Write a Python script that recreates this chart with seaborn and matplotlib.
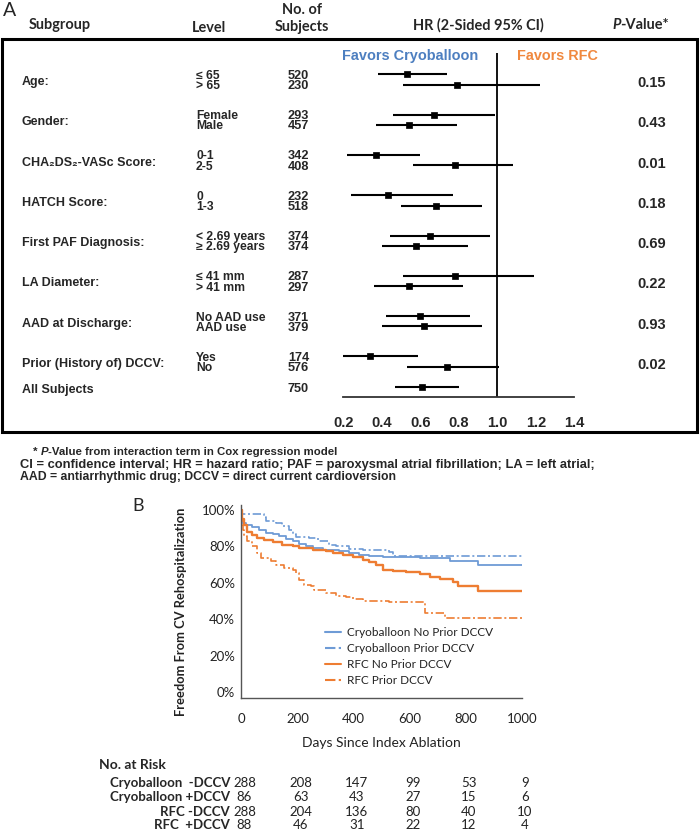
import numpy as np
import pandas as pd
import matplotlib
matplotlib.use("Agg")
import matplotlib.pyplot as plt
import seaborn as sns
from matplotlib.patches import Rectangle
from matplotlib.ticker import FuncFormatter
from matplotlib import transforms

# ---------------- Data: Panel A (forest plot) ----------------
subgroups = ["Age:", "Gender:", "CHA₂DS₂-VASc Score:", "HATCH Score:",
             "First PAF Diagnosis:", "LA Diameter:", "AAD at Discharge:",
             "Prior (History of) DCCV:", "All Subjects"]
levels = [["≤ 65", "> 65"], ["Female", "Male"], ["0-1", "2-5"], ["0", "1-3"],
          ["< 2.69 years", "≥ 2.69 years"], ["≤ 41 mm", "> 41 mm"],
          ["No AAD use", "AAD use"], ["Yes", "No"], [""]]
n_subjects = [[520, 230], [293, 457], [342, 408], [232, 518], [374, 374],
              [287, 297], [371, 379], [174, 576], [750]]
hr = [[0.53, 0.79], [0.67, 0.54], [0.37, 0.78], [0.43, 0.68], [0.65, 0.58],
      [0.78, 0.54], [0.60, 0.62], [0.34, 0.74], [0.61]]
ci_low = [[0.38, 0.51], [0.46, 0.37], [0.22, 0.56], [0.24, 0.50], [0.44, 0.40],
          [0.51, 0.36], [0.42, 0.40], [0.20, 0.53], [0.47]]
ci_high = [[0.74, 1.22], [0.99, 0.79], [0.60, 1.08], [0.77, 0.92], [0.96, 0.85],
           [1.19, 0.82], [0.86, 0.92], [0.59, 1.01], [0.80]]
p_values = ["0.15", "0.43", "0.01", "0.18", "0.69", "0.22", "0.93", "0.02", ""]
hr_ticks = [0.2, 0.4, 0.6, 0.8, 1.0, 1.2, 1.4]

# ---------------- Data: Panel B (Kaplan-Meier) ----------------
cryo_noprior_days = [0, 2, 15, 39, 63, 87, 111, 135, 158, 182, 206, 230, 254, 289,
                     349, 385, 420, 456, 504, 635, 743, 843, 1000]
cryo_noprior_surv = [100, 93, 91.8, 90.5, 89, 87.6, 86.7, 85.5, 84, 82.7, 81.5, 80.4,
                     79, 78.2, 77.3, 76.4, 75, 74.5, 74, 73.6, 72, 70, 70]
cryo_prior_days = [0, 1, 81, 87, 123, 146, 170, 182, 194, 242, 271, 313, 337, 385,
                   432, 527, 539, 1000]
cryo_prior_surv = [100, 97.8, 96, 94, 92.7, 91, 89, 87, 85, 84.5, 82.7, 81, 80, 78.5,
                   77.8, 76.7, 74.5, 74.5]
rfc_noprior_days = [0, 3, 10, 21, 39, 57, 81, 111, 146, 182, 206, 254, 301, 325, 361,
                    396, 432, 456, 480, 504, 539, 587, 636, 671, 707, 754, 771, 843, 1000]
rfc_noprior_surv = [100, 95, 91.8, 88, 86.4, 84.5, 83.3, 82.2, 81, 80, 79, 78.2, 77.3,
                    76.4, 75.5, 74.2, 72.7, 71.3, 69.5, 67.3, 66.5, 65.8, 65, 63.3, 62,
                    60.6, 58, 55.7, 55.7]
rfc_prior_days = [0, 2, 4, 10, 21, 39, 57, 69, 105, 123, 152, 182, 194, 206, 224, 248,
                  260, 301, 337, 373, 396, 432, 527, 654, 725, 1000]
rfc_prior_surv = [100, 92, 89, 85.5, 82.7, 80, 76.4, 73.6, 71.8, 70, 68.2, 67.3, 65.5,
                  61.8, 59, 58.2, 56, 54.5, 53, 52.2, 51, 50, 49.5, 43.6, 40.8, 40.8]
km_labels = ["Cryoballoon No Prior DCCV", "Cryoballoon Prior DCCV",
             "RFC No Prior DCCV", "RFC Prior DCCV"]
km_ticks_x = [0, 200, 400, 600, 800, 1000]
km_ticks_y = [0, 20, 40, 60, 80, 100]

risk_labels = ["Cryoballoon  -DCCV", "Cryoballoon +DCCV", "RFC -DCCV", "RFC  +DCCV"]
risk_days = [0, 200, 400, 600, 800, 1000]
risk_counts = [[288, 208, 147, 99, 53, 9],
               [86, 63, 43, 27, 15, 6],
               [288, 204, 136, 80, 40, 10],
               [88, 46, 31, 22, 12, 4]]

# ---------------- Styling ----------------
sns.set_style("white")
plt.rcParams["font.family"] = ["Liberation Sans", "DejaVu Sans"]
ARIAL = ["Liberation Sans", "DejaVu Sans"]
SOFT = ["Lato", "DejaVu Sans"]

BLUE = "#6E9BD6"
ORANGE = "#EE7D32"
FAV_BLUE = "#4D7FC0"
FAV_ORANGE = "#F0883E"
W, H = 700, 831

fig = plt.figure(figsize=(7, 8.31), dpi=100)
renderer = fig.canvas.get_renderer()


def X(px):
    return px / W


def Y(py):
    return 1 - py / H


def ftext(x, y, s, **kw):
    kw.setdefault("va", "center")
    kw.setdefault("family", ARIAL)
    return fig.text(X(x), Y(y), s, **kw)


def width_px(t):
    return t.get_window_extent(renderer=renderer).width


def fit(x, y, s, target, **kw):
    t = ftext(x, y, s, fontsize=10, **kw)
    t.set_fontsize(10 * target / width_px(t))
    return t


def seq(x, y, parts, size, **common):
    for s, extra in parts:
        t = ftext(x, y, s, fontsize=size, **common, **extra)
        x += width_px(t)


# ---------------- Panel A ----------------
ftext(10, 10, "A", ha="center", fontsize=14, family=SOFT)
hdr = dict(fontweight="bold", family=SOFT)
hr_hdr = fit(413, 25, "HR (2-Sided 95% CI)", 132, **hdr)
hsize = hr_hdr.get_fontsize()
ftext(29, 25, "Subgroup", fontsize=hsize, **hdr)
ftext(192, 28, "Level", fontsize=hsize, **hdr)
ftext(302, 10, "No. of", ha="center", fontsize=hsize, **hdr)
ftext(302, 27, "Subjects", ha="center", fontsize=hsize, **hdr)
seq(612, 25, [("P", dict(style="italic")), ("-Value*", {})], hsize,
    fontweight="bold", family=SOFT)

fig.patches.append(Rectangle((X(2), Y(432)), 695 / W, (432 - 39) / H,
                             transform=fig.transFigure, fill=False, lw=2.2, ec="black"))

# forest axes: y data in layout units (pixels from top of the figure)
PPU = 192.5
X_ZERO2 = 343.3
x0, x1 = 0.17, 1.43
AX_TOP, AX_BOT = 50, 396.7
axf = fig.add_axes([X(X_ZERO2 - (0.2 - x0) * PPU), Y(AX_BOT),
                    (x1 - x0) * PPU / W, (AX_BOT - AX_TOP) / H])
axf.set_facecolor("none")

rows = []
for g, sub in enumerate(subgroups):
    if g < 8:
        base = 74.3 + 40.3 * g
        ys = [base, base + 10.3]
    else:
        ys = [387.3]
    for j, yy in enumerate(ys):
        rows.append(dict(y=yy, hr=hr[g][j], lo=ci_low[g][j], hi=ci_high[g][j],
                         level=levels[g][j], n=n_subjects[g][j]))
    mid = np.mean(ys)
    ftext(22, mid + 2.5, sub, fontsize=9, fontweight="bold")
    if p_values[g]:
        ftext(637, mid + 3.5, p_values[g], fontsize=10.5, fontweight="bold")
df = pd.DataFrame(rows)
for _, r in df.iterrows():
    if r["level"]:
        ftext(196, r["y"] + 1.5, r["level"], fontsize=8.7, fontweight="bold")
    ftext(288, r["y"] + 1.5, str(r["n"]), fontsize=9.2, fontweight="bold")

axf.hlines(df["y"], df["lo"], df["hi"], color="black", lw=1.5, zorder=2)
sns.scatterplot(data=df, x="hr", y="y", marker="s", s=18, color="black",
                edgecolor="black", linewidth=0.5, ax=axf, legend=False, zorder=3)
axf.vlines(1.0, AX_BOT, 53, color="black", lw=1.3)
axf.set_xlim(x0, x1)
axf.set_ylim(AX_BOT, AX_TOP)
for s in ["top", "right", "left"]:
    axf.spines[s].set_visible(False)
axf.spines["bottom"].set_bounds(0.2, 1.4)
axf.spines["bottom"].set_linewidth(1.3)
axf.spines["bottom"].set_color("#333333")
axf.set_yticks([])
axf.set_xticks(hr_ticks)
axf.set_xticklabels([f"{t:.1f}" for t in hr_ticks], fontsize=10.5, fontweight="bold")
axf.tick_params(axis="x", direction="out", length=4.8, width=1.2, color="#333333", pad=9)
axf.set_xlabel("")
axf.set_ylabel("")

fit(342, 56, "Favors Cryoballoon", 136, fontweight="bold", color=FAV_BLUE)
fit(517, 56, "Favors RFC", 81, fontweight="bold", color=FAV_ORANGE)

seq(33, 452, [("* ", {}), ("P", dict(style="italic")),
              ("-Value from interaction term in Cox regression model", {})],
    8.2, fontweight="bold")
fit(20, 465, "CI = confidence interval; HR = hazard ratio; PAF = paroxysmal atrial fibrillation; LA = left atrial;",
    575, fontweight="bold")
fit(20, 477, "AAD = antiarrhythmic drug; DCCV = direct current cardioversion", 378,
    fontweight="bold")

# ---------------- Panel B ----------------
ftext(138, 506, "B", ha="center", fontsize=13, family=SOFT)

km_frames = []
for lab, d, s in zip(km_labels,
                     [cryo_noprior_days, cryo_prior_days, rfc_noprior_days, rfc_prior_days],
                     [cryo_noprior_surv, cryo_prior_surv, rfc_noprior_surv, rfc_prior_surv]):
    km_frames.append(pd.DataFrame({"day": d, "surv": s, "group": lab}))
km = pd.concat(km_frames, ignore_index=True)

KL, KR, KT, KB = 241.5, 522, 504.5, 697.5
axk = fig.add_axes([X(KL), Y(KB), (KR - KL) / W, (KB - KT) / H])
DD = (5, 1.6, 1.2, 1.6)
sns.lineplot(data=km, x="day", y="surv", hue="group", style="group",
             hue_order=km_labels, style_order=km_labels,
             palette=[BLUE, BLUE, ORANGE, ORANGE],
             dashes={km_labels[0]: "", km_labels[1]: DD,
                     km_labels[2]: "", km_labels[3]: DD},
             estimator=None, sort=False, drawstyle="steps-post", ax=axk)
for ln, lw in zip(axk.get_lines()[:4], [1.3, 1.2, 1.7, 1.2]):
    ln.set_linewidth(lw)
axk.set_xlim(0, 1000)
axk.set_ylim(-3, 103)
axk.set_xticks(km_ticks_x)
axk.set_yticks(km_ticks_y)
axk.yaxis.set_major_formatter(FuncFormatter(lambda v, p: f"{v:.0f}%"))
for s in ["top", "right"]:
    axk.spines[s].set_visible(False)
for s in ["left", "bottom"]:
    axk.spines[s].set_color("#555555")
    axk.spines[s].set_linewidth(1.0)
axk.tick_params(axis="y", direction="out", length=3, width=0.8, color="#555555",
                labelsize=9.5, labelcolor="#222222", pad=1.5)
axk.tick_params(axis="x", direction="out", length=4, width=0.8, color="#555555",
                labelsize=9.5, labelcolor="#222222", pad=7)
for lab in axk.get_xticklabels() + axk.get_yticklabels():
    lab.set_family(SOFT)
xl = axk.set_xlabel("Days Since Index Ablation", fontsize=10, family=SOFT,
                    color="#222222")
axk.xaxis.set_label_coords(0.5, -(743 - KB) / (KB - KT), transform=axk.transAxes)
xl.set_va("center")
yl = axk.set_ylabel("Freedom From CV Rehospitalization", fontsize=9.5, fontweight="bold",
                    family=SOFT, color="#222222")
yl.set_fontsize(9.5 * 209 / yl.get_window_extent(renderer=renderer).height)
axk.yaxis.set_label_coords((187 - KL) / (KR - KL), (KB - 612) / (KB - KT))

# legend sized to the reference label width
probe = ftext(0, -50, km_labels[0], fontsize=10, family=SOFT)
leg_size = 10 * 145 / width_px(probe)
probe.remove()
leg = axk.legend(loc="upper left",
                 bbox_to_anchor=((325 - KL) / (KR - KL), (KB - 627) / (KB - KT)),
                 frameon=False, handlelength=1.4, handletextpad=0.45,
                 labelspacing=0.42, borderaxespad=0, borderpad=0,
                 prop={"family": SOFT, "size": leg_size})
for t in leg.get_texts():
    t.set_color("#222222")

# number at risk table
fit(99, 765, "No. at Risk", 67, fontweight="bold", family=SOFT)
num_tr = transforms.blended_transform_factory(axk.transData, fig.transFigure)
offset = transforms.ScaledTranslation(3 / 100, 0, fig.dpi_scale_trans)
for i, (lab, counts) in enumerate(zip(risk_labels, risk_counts)):
    yy = [782.7, 797.3, 811.7, 825][i]
    ftext(230, yy, lab, ha="right", fontsize=9.5, fontweight="bold", family=SOFT)
    for d, c in zip(risk_days, counts):
        fig.text(d, Y(yy), str(c), transform=num_tr + offset, ha="center", va="center",
                 fontsize=9.5, family=SOFT, color="#222222")

fig.savefig("out.png", dpi=100)
